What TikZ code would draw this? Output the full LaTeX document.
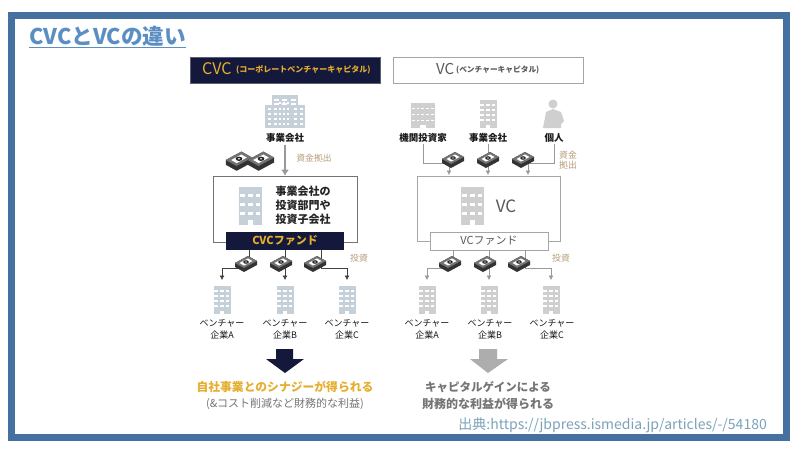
\documentclass[tikz,border=0pt]{standalone}
\usepackage{fontspec}
\setmainfont{Noto Sans CJK JP}
\usetikzlibrary{arrows.meta}
\usetikzlibrary{calc}
\definecolor{framecol}{HTML}{44719F}
\definecolor{titlecol}{HTML}{5B8FC4}
\definecolor{navycol}{HTML}{14193C}
\definecolor{goldcol}{HTML}{E5AE2F}
\definecolor{tancol}{HTML}{B89B78}
\definecolor{bluebld}{HTML}{C5D0D8}
\definecolor{graybld}{HTML}{CFCFCF}
\definecolor{graytext}{HTML}{757575}
\definecolor{sourcecol}{HTML}{7BA3B8}
\newcommand{\fs}[1]{\fontsize{#1}{#1}\selectfont}
\tikzstyle{txt}=[inner sep=0, text=black!90]
\tikzstyle{firmlabel}=[txt, font=\fs{9}, align=center]
\tikzstyle{ownerlabel}=[txt, font=\fs{9.5}\bfseries]
\tikzstyle{notelabel}=[inner sep=0, text=tancol, font=\fs{8.8}, align=center]
\tikzstyle{cvcflow}=[draw=black!75, semithick, -{Latex[length=4.5pt, width=5pt]}]
\tikzstyle{vcflow}=[draw=black!40, semithick, -{Latex[length=4.5pt, width=5pt]}]
% name, centre x, top y, width, height, colour, columns, rows
\newcommand{\building}[8]{
  \node[fill=#6, inner sep=0, minimum width=#4pt, minimum height=#5pt, anchor=north] (#1) at (#2, #3) {};
  \begin{scope}[shift={(#1.north west)}]
    \foreach \i in {1,...,#7}
      \foreach \j in {1,...,#8}
        \fill[white] ({#4*(\i-0.5)/#7-0.3*#4/#7}, {0.72*#5*(\j-0.5)/#8+0.06*#5})
          rectangle +({0.6*#4/#7}, {0.07*#5});
    \fill[white] ({0.38*#4}, {#5}) rectangle ({0.62*#4}, {0.88*#5});
  \end{scope}
  \fill[#6] ($(#1.north west)+(0.2*#4,0)$) rectangle ($(#1.north east)+(-0.2*#4,-2.5pt)$);
}
% name, centre x, centre y, scale
\newcommand{\money}[4]{
  \coordinate (#1) at (#2, #3);
  \begin{scope}[shift={(#1)}, scale=#4]
    \fill[black!80] (-11, 0) -- (2, -7) -- (11, -2) -- (11, 2) -- (-2, 9) -- (-11, 4) -- cycle;
    \fill[black!55] (-11, 0) -- (2, -7) -- (11, -2) -- (-2, 5) -- cycle;
    \fill[white] (-6.5, 0) -- (2, -4.6) -- (6.5, -2) -- (-2, 2.6) -- cycle;
    \fill[black!85] (0, -1) ellipse [x radius=2.8, y radius=1.8];
    \fill[white] (0, -1) ellipse [x radius=1, y radius=.6];
  \end{scope}
}
\begin{document}
\begin{tikzpicture}[x=1pt, y=-1pt]
  \useasboundingbox (0, 0) rectangle (800, 450);
  \fill[white] (0, 0) rectangle (800, 450);
  \draw[framecol, line width=7pt] (11.5, 15) rectangle (786.5, 437);
  \node[inner sep=0, anchor=west, text=titlecol, font=\fs{21.6}\bfseries] (title) at (29, 37)
    {\underline{CVCとVCの違い}};

  % CVC side
  \node[fill=navycol, draw=navycol!70, minimum width=190pt, minimum height=26pt, inner sep=0] (cvchead) at (285, 70) {};
  \node[inner sep=0, anchor=west, text=goldcol, font=\fs{16}] (cvcname) at (202, 69) {CVC};
  \node[inner sep=0, anchor=west, text=goldcol, font=\fs{8}\bfseries] (cvcnote) at (236, 70) {(コーポレートベンチャーキャピタル)};

  \building{cvcowner}{285}{95}{26}{33}{bluebld}{3}{6}
  \fill[bluebld] (265, 105) rectangle (305, 128);
  \foreach \i in {268, 274, 294, 300}
    \foreach \j in {108, 113, 118, 123}
      \fill[white] (\i, \j) rectangle +(3, 1.6);
  \foreach \i in {279, 283, 287}
    \foreach \j in {102, 108, 113, 118, 123}
      \fill[white] (\i, \j) rectangle +(2, 1.6);
  \node[ownerlabel] (cvcownertext) at (285, 138) {事業会社};
  \node[draw=black!55, semithick, minimum width=144pt, minimum height=66pt, inner sep=0] (cvcbox) at (285, 209) {};
  \draw[draw=black!40, line width=2pt, -{Latex[length=6pt, width=8pt]}] ([yshift=-2pt]cvcownertext.south) -- (cvcownertext.south |- cvcbox.north);
  \money{cvccashA}{239}{160}{1.2}
  \money{cvccashB}{261}{160}{1.2}
  \node[notelabel] (cvcfunding) at (314, 158) {資金拠出};

  \building{cvcdept}{250.5}{187}{23}{38}{bluebld}{3}{3}
  \node[inner sep=0, text=black!85, font=\fs{11}\bfseries, align=center] (cvcdepttext) at (303, 205)
    {事業会社の\\[3pt]投資部門や\\[3pt]投資子会社};
  \node[fill=navycol, minimum width=118pt, minimum height=18pt, inner sep=0, text=goldcol, font=\fs{11}\bfseries] (cvcfund) at (285, 241) {CVCファンド};

  \building{cvcfirmA}{222}{286}{17}{28}{bluebld}{3}{4}
  \building{cvcfirmB}{285}{286}{17}{28}{bluebld}{3}{4}
  \building{cvcfirmC}{347}{286}{17}{28}{bluebld}{3}{4}
  \coordinate (cvcoutA) at (249, 250);
  \coordinate (cvcoutC) at (321, 250);
  \coordinate (cvcbendA) at (249, 268);
  \coordinate (cvcbendC) at (321, 268);
  \draw[cvcflow] (cvcoutA) -- (cvcbendA) -| ([yshift=6pt]cvcfirmA.north);
  \draw[cvcflow] (cvcfund.south) -- ([yshift=6pt]cvcfirmB.north);
  \draw[cvcflow] (cvcoutC) -- (cvcbendC) -| ([yshift=6pt]cvcfirmC.north);
  \money{cvcpayA}{246}{263}{1}
  \money{cvcpayB}{281}{263}{1}
  \money{cvcpayC}{315}{263}{1}
  \node[notelabel] (cvcinvest) at (359, 258) {投資};

  \node[firmlabel] (cvcfirmtextA) at (222, 329) {ベンチャー\\[3pt]企業A};
  \node[firmlabel] (cvcfirmtextB) at (285, 329) {ベンチャー\\[3pt]企業B};
  \node[firmlabel] (cvcfirmtextC) at (347, 329) {ベンチャー\\[3pt]企業C};

  \fill[navycol] (276, 349) -- (293, 349) -- (293, 359) -- (304, 359) -- (285, 373) -- (266, 359) -- (276, 359) -- cycle;
  \node[inner sep=0, text=goldcol, font=\fs{11.8}\bfseries] (cvcresult) at (285, 387) {自社事業とのシナジーが得られる};
  \node[inner sep=0, text=graytext, font=\fs{11}] (cvcextra) at (285, 404) {(\&コスト削減など財務的な利益)};

  % VC side
  \node[draw=black!35, semithick, minimum width=190pt, minimum height=26pt, inner sep=0] (vchead) at (488, 70) {};
  \node[inner sep=0, anchor=west, text=black!65, font=\fs{15}] (vcname) at (436, 69) {VC};
  \node[inner sep=0, anchor=west, text=black!65, font=\fs{7.7}\bfseries] (vcnote) at (456, 70) {(ベンチャーキャピタル)};

  \building{vcownerA}{423}{103}{24}{25}{graybld}{5}{3}
  \building{vcownerB}{488}{100}{17}{28}{graybld}{3}{4}
  \fill[graybld] (553, 104) circle (4.5);
  \fill[graybld] (543, 128) -- (546, 112) -- (553, 109) -- (561, 112) -- (564, 121) -- (561, 124) -- (561, 128) -- cycle;
  \node[ownerlabel] (vcownertextA) at (423, 138) {機関投資家};
  \node[ownerlabel] (vcownertextB) at (488, 138) {事業会社};
  \node[ownerlabel] (vcownertextC) at (554, 138) {個人};

  \coordinate (vcinA) at (449, 175);
  \coordinate (vcinB) at (488, 175);
  \coordinate (vcinC) at (528, 175);
  \draw[vcflow] ([yshift=-1pt]vcownertextA.south) |- (449, 163) -- (vcinA);
  \draw[vcflow] ([yshift=-1pt]vcownertextB.south) -- (vcinB);
  \draw[vcflow] ([yshift=-1pt]vcownertextC.south) |- (528, 163) -- (vcinC);
  \money{vccashA}{453}{159}{1}
  \money{vccashB}{488}{159}{1}
  \money{vccashC}{523}{159}{1}
  \node[notelabel] (vcfunding) at (568, 160.5) {資金\\[1pt]拠出};

  \node[draw=black!35, semithick, minimum width=143pt, minimum height=65pt, inner sep=0] (vcbox) at (488.5, 208.5) {};
  \building{vcoffice}{472.5}{187}{23}{38}{graybld}{3}{3}
  \node[inner sep=0, text=black!65, font=\fs{17}] (vcofficetext) at (506, 206) {VC};
  \node[draw=black!35, fill=white, semithick, minimum width=118pt, minimum height=18pt, inner sep=0, text=black!65, font=\fs{11}] (vcfund) at (489, 241) {VCファンド};

  \building{vcfirmA}{427}{286}{17}{28}{graybld}{3}{4}
  \building{vcfirmB}{489}{286}{17}{28}{graybld}{3}{4}
  \building{vcfirmC}{551}{286}{17}{28}{graybld}{3}{4}
  \coordinate (vcoutA) at (453, 250);
  \coordinate (vcoutC) at (525, 250);
  \coordinate (vcbendA) at (453, 268);
  \coordinate (vcbendC) at (525, 268);
  \draw[vcflow] (vcoutA) -- (vcbendA) -| ([yshift=6pt]vcfirmA.north);
  \draw[vcflow] (vcfund.south) -- ([yshift=6pt]vcfirmB.north);
  \draw[vcflow] (vcoutC) -- (vcbendC) -| ([yshift=6pt]vcfirmC.north);
  \money{vcpayA}{450}{263}{1}
  \money{vcpayB}{485}{263}{1}
  \money{vcpayC}{519}{263}{1}
  \node[notelabel] (vcinvest) at (561, 258) {投資};

  \node[firmlabel] (vcfirmtextA) at (427, 329) {ベンチャー\\[3pt]企業A};
  \node[firmlabel] (vcfirmtextB) at (490, 329) {ベンチャー\\[3pt]企業B};
  \node[firmlabel] (vcfirmtextC) at (552, 329) {ベンチャー\\[3pt]企業C};

  \fill[black!32] (479, 349) -- (497, 349) -- (497, 359) -- (508, 359) -- (488, 373) -- (470, 359) -- (479, 359) -- cycle;
  \node[inner sep=0, text=graytext, font=\fs{11.5}\bfseries] (vcresultA) at (488, 387) {キャピタルゲインによる};
  \node[inner sep=0, text=graytext, font=\fs{12}\bfseries] (vcresultB) at (488, 404) {財務的な利益が得られる};

  \node[inner sep=0, anchor=east, text=sourcecol, font=\fs{14}] (source) at (767, 425)
    {出典:https://jbpress.ismedia.jp/articles/-/54180};
\end{tikzpicture}
\end{document}
